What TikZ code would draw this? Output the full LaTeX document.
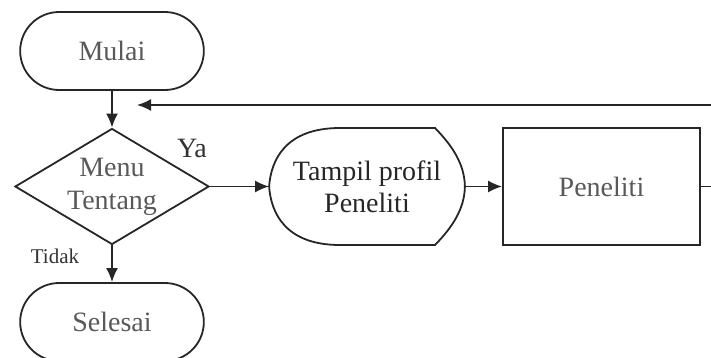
\documentclass[tikz,border=0pt]{standalone}
\usepackage{fontspec}
\setmainfont{Liberation Serif}
\usetikzlibrary{shapes.geometric,shapes.misc,arrows.meta,calc}
\definecolor{garisabu}{rgb}{0.15,0.15,0.15}
\definecolor{teksabu}{rgb}{0.35,0.35,0.35}

\tikzset{
	garis/.style={line width=0.9pt, color=garisabu},
	terminal/.style={draw, garis, rounded rectangle, minimum width=98.5pt, minimum height=39pt, text=teksabu, font=\fontsize{14}{16}\selectfont},
	keputusan/.style={draw, garis, diamond, shape aspect=1.67, minimum width=97pt, minimum height=58pt, inner sep=0pt, align=center, text=teksabu, font=\fontsize{14}{16.5}\selectfont},
	proses/.style={draw, garis, rectangle, minimum width=98.5pt, minimum height=58.5pt, text=teksabu, font=\fontsize{14}{16}\selectfont},
	tampilan/.style={minimum width=97.5pt, minimum height=58.5pt, inner sep=0pt, align=center, text=black!85, font=\fontsize{14}{16}\selectfont},
	ket/.style={text=black!80, font=\fontsize{14}{16}\selectfont},
	ketkecil/.style={text=black!80, font=\fontsize{10.5}{12}\selectfont}
}

\begin{document}
\begin{tikzpicture}[>={Latex[length=7pt,width=6pt]}, x=0.5pt, y=-0.5pt]

	\useasboundingbox (0,0) rectangle (711,358);

	\node[terminal] (mulai) at (112,51) {Mulai};
	\node[keputusan] (menu) at (112,186.5) {Menu\\Tentang};
	\node[tampilan] (tampil) at (367,186.5) {Tampil profil\\Peneliti};
	\node[proses] (peneliti) at (601.5,186.5) {Peneliti};
	\node[terminal] (selesai) at (112,322) {Selesai};

	\node[ket] (ya) at (192,148) {Ya};
	\node[ketkecil] (tidak) at (55,256) {Tidak};

	\coordinate (kananatas) at (711,105);
	\coordinate (balik) at (137,105);
	\coordinate (kanantengah) at (711,186.5);

	\draw[garis] ($(tampil)+(-27,-58.5)$) -- ($(tampil)+(68,-58.5)$)
		.. controls ($(tampil)+(86,-40)$) and ($(tampil)+(97.5,-22)$) .. (tampil.east)
		.. controls ($(tampil)+(97.5,22)$) and ($(tampil)+(86,40)$) .. ($(tampil)+(68,58.5)$)
		-- ($(tampil)+(-27,58.5)$)
		.. controls ($(tampil)+(-82,58.5)$) and ($(tampil)+(-96,26)$) .. (tampil.west)
		.. controls ($(tampil)+(-96,-26)$) and ($(tampil)+(-82,-58.5)$) .. cycle;

	\draw[garis,->] (mulai) -- (menu);
	\draw[garis,->] (kananatas) -- (balik);
	\draw[garis,->] (menu.east) -- (tampil.west);
	\draw[garis,->] (tampil.east) -- (peneliti.west);
	\draw[garis] (peneliti.east) -- (kanantengah);
	\draw[garis,->] (menu.south) -- (selesai.north);

\end{tikzpicture}
\end{document}
